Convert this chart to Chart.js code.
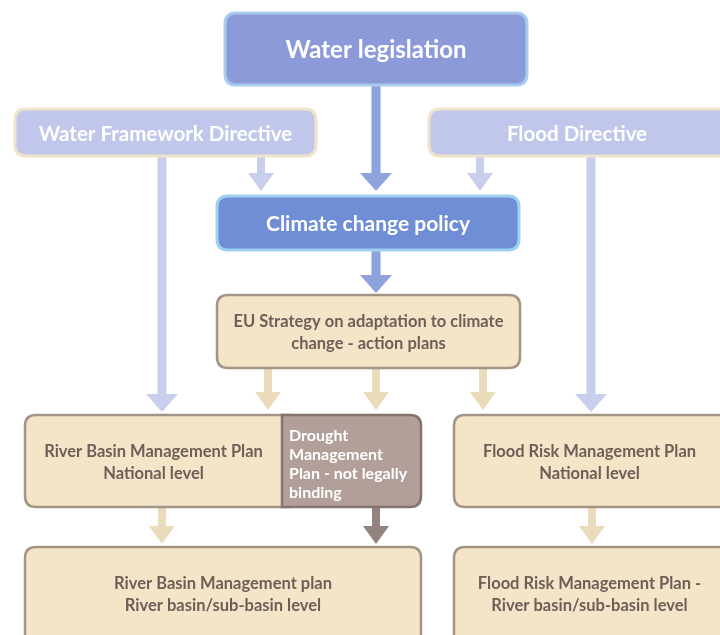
<!DOCTYPE html>
<html>
<head>
<meta charset="utf-8">
<script src="https://cdn.jsdelivr.net/npm/chart.js@4/dist/chart.umd.min.js"></script>
<style>
  html, body { margin: 0; padding: 0; background: #ffffff; }
  #wrap { width: 720px; height: 635px; }
</style>
</head>
<body>
<div id="wrap"><canvas id="flow" width="720" height="635"></canvas></div>
<script>
// diagram nodes (diagram units: 0..720 across, 0..635 down)
const nodeLabels = [
  ['Water legislation'],
  ['Water Framework Directive'],
  ['Flood Directive'],
  ['Climate change policy'],
  ['EU Strategy on adaptation to climate', 'change - action plans'],
  ['River Basin Management Plan', 'National level'],
  ['Drought', 'Management', 'Plan - not legally', 'binding'],
  ['Flood Risk Management Plan', 'National level'],
  ['River Basin Management plan', 'River basin/sub-basin level'],
  ['Flood Risk Management Plan -', 'River basin/sub-basin level'],
];
const nodeKinds = ['top', 'directive', 'directive', 'policy', 'tan', 'tan', 'drought', 'tan', 'tan', 'tan'];
const nodeLeft   = [225, 15, 429, 217, 217, 25, 282, 454, 25, 454];
const nodeRight  = [527, 316, 735, 519, 520, 300, 421, 735, 421, 735];
const nodeTop    = [13, 109, 109, 196, 295, 415, 415, 415, 547, 547];
const nodeBottom = [85, 156, 156, 250, 368, 507, 507, 507, 650, 650];

// arrows: column, start, end
const arrowX    = [376, 162, 261, 480, 591, 376, 268, 376, 483, 162, 376, 592];
const arrowFrom = [85, 156, 156, 156, 156, 250, 368, 368, 368, 507, 507, 507];
const arrowTo   = [191, 412, 191, 191, 412, 293, 410, 410, 410, 544, 544, 544];
const arrowKinds = ['blue', 'pale', 'pale', 'pale', 'pale', 'blue', 'tan', 'tan', 'tan', 'tan', 'brown', 'tan'];

const nodeStyle = {
  top:       { fill: '#8d9ad9', border: '#a8cbee', text: '#ffffff', size: 24, width: 3, lh: 28 },
  directive: { fill: '#c1c7ea', border: '#efe4c9', text: '#ffffff', size: 20.5, width: 3, lh: 24 },
  policy:    { fill: '#6f8ed5', border: '#9fd0f2', text: '#ffffff', size: 21, width: 3, lh: 24 },
  tan:       { fill: '#f4e4c8', border: '#a39586', text: '#6b5f57', size: 16.5, width: 2.5, lh: 22 },
  drought:   { fill: '#b29f99', border: '#85746d', text: '#ffffff', size: 16, width: 2.5, lh: 19 },
};
const arrowColor = {
  blue: '#8ea2dc',
  pale: '#c8cfec',
  tan: '#eadbbb',
  brown: '#938380',
};

function boxPath(ctx, l, t, r, b, rad, squareLeft) {
  ctx.beginPath();
  if (squareLeft) {
    ctx.moveTo(l, t);
  } else {
    ctx.moveTo(l + rad, t);
  }
  ctx.lineTo(r - rad, t);
  ctx.quadraticCurveTo(r, t, r, t + rad);
  ctx.lineTo(r, b - rad);
  ctx.quadraticCurveTo(r, b, r - rad, b);
  if (squareLeft) {
    ctx.lineTo(l, b);
  } else {
    ctx.lineTo(l + rad, b);
    ctx.quadraticCurveTo(l, b, l, b - rad);
    ctx.lineTo(l, t + rad);
    ctx.quadraticCurveTo(l, t, l + rad, t);
  }
  ctx.closePath();
}

const flowPlugin = {
  id: 'flow',
  afterDatasetsDraw(chart) {
    const { ctx, scales: { x, y } } = chart;
    ctx.save();

    arrowX.forEach((ax, i) => {
      const px = x.getPixelForValue(ax);
      const y0 = y.getPixelForValue(arrowFrom[i]);
      const y1 = y.getPixelForValue(arrowTo[i]);
      const big = arrowKinds[i] === 'blue' || (arrowTo[i] - arrowFrom[i] > 100);
      const shaft = big ? 9 : 8;
      const head = big ? 16 : 13;
      const headLen = 18;
      ctx.fillStyle = arrowColor[arrowKinds[i]];
      ctx.fillRect(px - shaft / 2, y0, shaft, y1 - headLen - y0 + 1);
      ctx.beginPath();
      ctx.moveTo(px - head, y1 - headLen);
      ctx.lineTo(px + head, y1 - headLen);
      ctx.lineTo(px, y1);
      ctx.closePath();
      ctx.fill();
    });

    nodeLabels.forEach((lines, i) => {
      const kind = nodeKinds[i];
      const st = nodeStyle[kind];
      const l = x.getPixelForValue(nodeLeft[i]);
      const r = x.getPixelForValue(nodeRight[i]);
      const t = y.getPixelForValue(nodeTop[i]);
      const b = y.getPixelForValue(nodeBottom[i]);
      ctx.lineWidth = st.width;
      boxPath(ctx, l, t, r, b, 11, kind === 'drought');
      ctx.fillStyle = st.fill;
      ctx.fill();
      ctx.strokeStyle = st.border;
      ctx.stroke();

      // visible right edge: clipped by a neighbour drawn over this box
      let visR = Math.min(r, x.getPixelForValue(725));
      nodeLeft.forEach((nl, j) => {
        if (j !== i && nl > nodeLeft[i] && nl < nodeRight[i] && nodeTop[j] === nodeTop[i]) {
          visR = Math.min(visR, x.getPixelForValue(nl));
        }
      });
      const visB = Math.min(b, y.getPixelForValue(640));

      ctx.fillStyle = st.text;
      ctx.font = 'bold ' + st.size + 'px Lato, "Open Sans", sans-serif';
      ctx.textBaseline = 'middle';
      if (kind === 'drought') {
        ctx.textAlign = 'left';
        lines.forEach((s, k) => ctx.fillText(s, l + 7, t + 21 + k * st.lh));
      } else {
        ctx.textAlign = 'center';
        const cx = (l + visR) / 2;
        const cy = (t + visB) / 2 + 1.5;
        const y0 = cy - (lines.length - 1) * st.lh / 2;
        lines.forEach((s, k) => ctx.fillText(s, cx, y0 + k * st.lh));
      }
    });
    ctx.restore();
  },
};

new Chart(document.getElementById('flow'), {
  type: 'scatter',
  data: { datasets: [{ data: [], pointRadius: 0 }] },
  options: {
    responsive: false,
    animation: false,
    layout: { padding: 0 },
    plugins: { legend: { display: false }, tooltip: { enabled: false } },
    scales: {
      x: { type: 'linear', min: 0, max: 720, display: false },
      y: { type: 'linear', min: 0, max: 635, reverse: true, display: false },
    },
  },
  plugins: [flowPlugin],
});
</script>
</body>
</html>
